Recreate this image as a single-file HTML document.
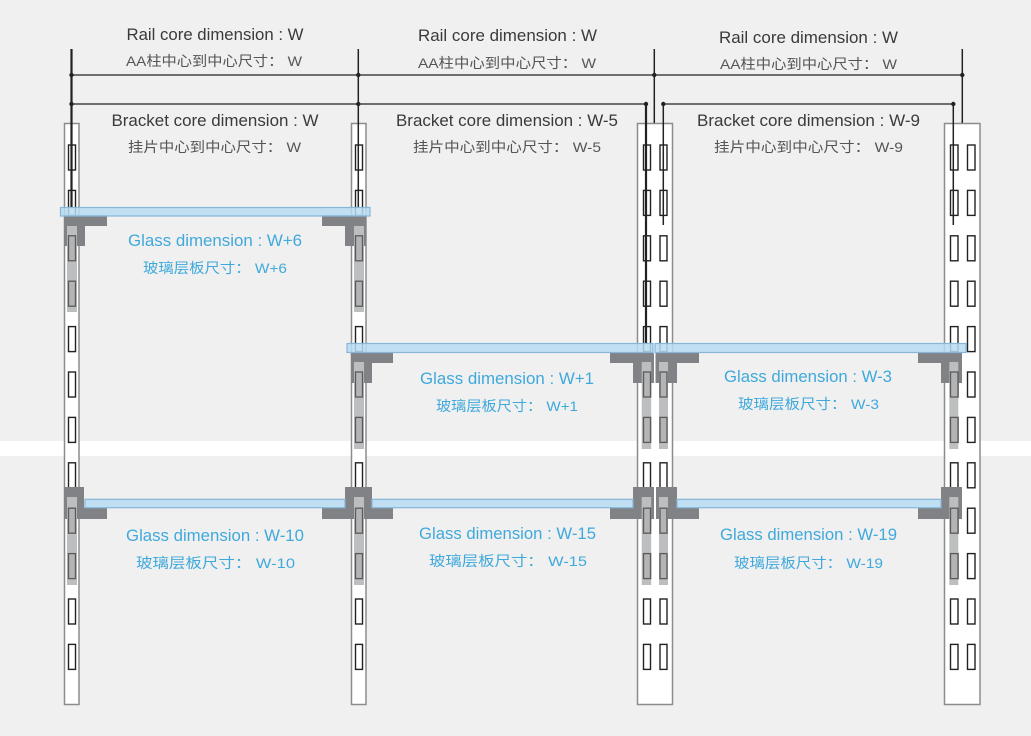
<!DOCTYPE html>
<html><head><meta charset="utf-8"><style>
html,body{margin:0;padding:0;background:#f0f0f0;}
svg{display:block;}
.en{font-family:"Liberation Sans",sans-serif;font-size:17px;fill:#3a3a3a;}
.cn{font-family:"Liberation Sans","Noto Sans CJK SC",sans-serif;font-size:14px;fill:#555;}
.gen{font-family:"Liberation Sans",sans-serif;font-size:17px;fill:#3fa9dc;}
.gcn{font-family:"Liberation Sans","Noto Sans CJK SC",sans-serif;font-size:14px;fill:#3fa9dc;}
</style></head><body>
<svg width="1031" height="736" viewBox="0 0 1031 736" xmlns="http://www.w3.org/2000/svg">
<rect x="0" y="0" width="1031" height="736" fill="#f0f0f0"/>
<rect x="0" y="441" width="1031" height="15" fill="#ffffff"/>

<!-- rails -->
<g fill="#ffffff" stroke="#8c8c8c" stroke-width="1.5">
<rect x="64.5" y="123.5" width="14.5" height="581"/>
<rect x="351.5" y="123.5" width="14.5" height="581"/>
<rect x="637.5" y="123.5" width="35" height="581"/>
<rect x="944.5" y="123.5" width="35.5" height="581"/>
</g>

<!-- slots -->
<g fill="#ffffff" stroke="#222" stroke-width="1.4" id="slots">
<!-- generated rows -->
<rect x="68.5" y="145" width="7" height="25"/><rect x="355.5" y="145" width="7" height="25"/><rect x="643.5" y="145" width="7" height="25"/><rect x="660" y="145" width="7" height="25"/><rect x="950.5" y="145" width="7.5" height="25"/><rect x="967.5" y="145" width="7.5" height="25"/>
<rect x="68.5" y="190.4" width="7" height="25"/><rect x="355.5" y="190.4" width="7" height="25"/><rect x="643.5" y="190.4" width="7" height="25"/><rect x="660" y="190.4" width="7" height="25"/><rect x="950.5" y="190.4" width="7.5" height="25"/><rect x="967.5" y="190.4" width="7.5" height="25"/>
<rect x="68.5" y="235.8" width="7" height="25"/><rect x="355.5" y="235.8" width="7" height="25"/><rect x="643.5" y="235.8" width="7" height="25"/><rect x="660" y="235.8" width="7" height="25"/><rect x="950.5" y="235.8" width="7.5" height="25"/><rect x="967.5" y="235.8" width="7.5" height="25"/>
<rect x="68.5" y="281.2" width="7" height="25"/><rect x="355.5" y="281.2" width="7" height="25"/><rect x="643.5" y="281.2" width="7" height="25"/><rect x="660" y="281.2" width="7" height="25"/><rect x="950.5" y="281.2" width="7.5" height="25"/><rect x="967.5" y="281.2" width="7.5" height="25"/>
<rect x="68.5" y="326.6" width="7" height="25"/><rect x="355.5" y="326.6" width="7" height="25"/><rect x="643.5" y="326.6" width="7" height="25"/><rect x="660" y="326.6" width="7" height="25"/><rect x="950.5" y="326.6" width="7.5" height="25"/><rect x="967.5" y="326.6" width="7.5" height="25"/>
<rect x="68.5" y="372" width="7" height="25"/><rect x="355.5" y="372" width="7" height="25"/><rect x="643.5" y="372" width="7" height="25"/><rect x="660" y="372" width="7" height="25"/><rect x="950.5" y="372" width="7.5" height="25"/><rect x="967.5" y="372" width="7.5" height="25"/>
<rect x="68.5" y="417.4" width="7" height="25"/><rect x="355.5" y="417.4" width="7" height="25"/><rect x="643.5" y="417.4" width="7" height="25"/><rect x="660" y="417.4" width="7" height="25"/><rect x="950.5" y="417.4" width="7.5" height="25"/><rect x="967.5" y="417.4" width="7.5" height="25"/>
<rect x="68.5" y="462.8" width="7" height="25"/><rect x="355.5" y="462.8" width="7" height="25"/><rect x="643.5" y="462.8" width="7" height="25"/><rect x="660" y="462.8" width="7" height="25"/><rect x="950.5" y="462.8" width="7.5" height="25"/><rect x="967.5" y="462.8" width="7.5" height="25"/>
<rect x="68.5" y="508.2" width="7" height="25"/><rect x="355.5" y="508.2" width="7" height="25"/><rect x="643.5" y="508.2" width="7" height="25"/><rect x="660" y="508.2" width="7" height="25"/><rect x="950.5" y="508.2" width="7.5" height="25"/><rect x="967.5" y="508.2" width="7.5" height="25"/>
<rect x="68.5" y="553.6" width="7" height="25"/><rect x="355.5" y="553.6" width="7" height="25"/><rect x="643.5" y="553.6" width="7" height="25"/><rect x="660" y="553.6" width="7" height="25"/><rect x="950.5" y="553.6" width="7.5" height="25"/><rect x="967.5" y="553.6" width="7.5" height="25"/>
<rect x="68.5" y="599" width="7" height="25"/><rect x="355.5" y="599" width="7" height="25"/><rect x="643.5" y="599" width="7" height="25"/><rect x="660" y="599" width="7" height="25"/><rect x="950.5" y="599" width="7.5" height="25"/><rect x="967.5" y="599" width="7.5" height="25"/>
<rect x="68.5" y="644.4" width="7" height="25"/><rect x="355.5" y="644.4" width="7" height="25"/><rect x="643.5" y="644.4" width="7" height="25"/><rect x="660" y="644.4" width="7" height="25"/><rect x="950.5" y="644.4" width="7.5" height="25"/><rect x="967.5" y="644.4" width="7.5" height="25"/>
</g>

<!-- dimension lines -->
<g stroke="#222" fill="none">
<line x1="71.5" y1="49" x2="71.5" y2="208" stroke-width="2.2"/>
<line x1="358.3" y1="49" x2="358.3" y2="208" stroke-width="1.5"/>
<line x1="654.3" y1="49" x2="654.3" y2="123" stroke-width="1.5"/>
<line x1="962.3" y1="49" x2="962.3" y2="123" stroke-width="1.5"/>
<line x1="646" y1="104" x2="646" y2="344" stroke-width="2.2"/>
<line x1="663.3" y1="104" x2="663.3" y2="225" stroke-width="1.5"/>
<line x1="953.3" y1="104" x2="953.3" y2="225" stroke-width="1.5"/>
<line x1="71" y1="75" x2="962.5" y2="75" stroke-width="1.3"/>
<line x1="71" y1="104" x2="646" y2="104" stroke-width="1.3"/>
<line x1="663" y1="104" x2="953.5" y2="104" stroke-width="1.3"/>
</g>
<g fill="#222">
<circle cx="71.5" cy="75" r="2.2"/><circle cx="358.3" cy="75" r="2.2"/><circle cx="654.3" cy="75" r="2.2"/><circle cx="962.3" cy="75" r="2.2"/>
<circle cx="71.5" cy="104" r="2.2"/><circle cx="358.3" cy="104" r="2.2"/><circle cx="646" cy="104" r="2.2"/><circle cx="663.3" cy="104" r="2.2"/><circle cx="953.3" cy="104" r="2.2"/>
</g>

<!-- brackets -->
<g fill="#808285">
<path d="M64,215 H107 V226 H85 V246 H64 Z"/>
<path d="M366,215 H322 V226 H345 V246 H366 Z"/>
<path d="M351,353 H393 V363 H372 V383 H351 Z"/>
<path d="M610,353 H654 V383 H633 V363 H610 Z"/>
<path d="M655.5,353 H699 V363 H677 V383 H655.5 Z"/>
<path d="M918,353 H962 V383 H941 V363 H918 Z"/>
<path d="M64,487 H84 V507.5 H107 V519 H64 Z"/>
<path d="M345,487 H372 V507.5 H393 V519 H322 V507.5 H345 Z"/>
<path d="M633,487 H654 V519 H610 V507.5 H633 Z"/>
<path d="M656,487 H677 V507.5 H699 V519 H656 Z"/>
<path d="M941,487 H962 V519 H918 V507.5 H941 Z"/>
</g>

<!-- light strips -->
<g fill="#bdbec0">
<rect x="67" y="226" width="10" height="86"/>
<rect x="354" y="226" width="10" height="86"/>
<rect x="354" y="362" width="10" height="87"/>
<rect x="641.7" y="362" width="9.5" height="87"/>
<rect x="659" y="362" width="9" height="87"/>
<rect x="949.3" y="362" width="9" height="87"/>
<rect x="67" y="497" width="10" height="88"/>
<rect x="354" y="497" width="10" height="88"/>
<rect x="641.7" y="497" width="9.5" height="88"/>
<rect x="659" y="497" width="9" height="88"/>
<rect x="949.3" y="497" width="9" height="88"/>
</g>
<g fill="#b3b4b6" stroke="#5a5a5a" stroke-width="1.3">
<rect x="68.5" y="235.8" width="7" height="25"/><rect x="68.5" y="281.2" width="7" height="25"/>
<rect x="355.5" y="235.8" width="7" height="25"/><rect x="355.5" y="281.2" width="7" height="25"/>
<rect x="355.5" y="372" width="7" height="25"/><rect x="355.5" y="417.4" width="7" height="25"/>
<rect x="643.5" y="372" width="7" height="25"/><rect x="643.5" y="417.4" width="7" height="25"/>
<rect x="660" y="372" width="7" height="25"/><rect x="660" y="417.4" width="7" height="25"/>
<rect x="950.5" y="372" width="7.5" height="25"/><rect x="950.5" y="417.4" width="7.5" height="25"/>
<rect x="68.5" y="508.2" width="7" height="25"/><rect x="68.5" y="553.6" width="7" height="25"/>
<rect x="355.5" y="508.2" width="7" height="25"/><rect x="355.5" y="553.6" width="7" height="25"/>
<rect x="643.5" y="508.2" width="7" height="25"/><rect x="643.5" y="553.6" width="7" height="25"/>
<rect x="660" y="508.2" width="7" height="25"/><rect x="660" y="553.6" width="7" height="25"/>
<rect x="950.5" y="508.2" width="7.5" height="25"/><rect x="950.5" y="553.6" width="7.5" height="25"/>
</g>

<!-- glass -->
<g fill="#b8dcf3" fill-opacity="0.85" stroke="#86b6da" stroke-width="1.2">
<rect x="60.5" y="207.5" width="309.5" height="8.5"/>
<rect x="347" y="343.5" width="306" height="9"/>
<rect x="655" y="343.5" width="311" height="9"/>
<rect x="85" y="499.3" width="260" height="8.4"/>
<rect x="372" y="499.3" width="261" height="8.4"/>
<rect x="677" y="499.3" width="264" height="8.4"/>
</g>

<!-- labels -->
<g text-anchor="middle">
<text class="en" x="215" y="40" textLength="177" lengthAdjust="spacingAndGlyphs">Rail core dimension : W</text>
<text class="cn" x="214" y="66" textLength="176" lengthAdjust="spacingAndGlyphs">AA柱中心到中心尺寸： W</text>
<text class="en" x="215" y="126" textLength="207" lengthAdjust="spacingAndGlyphs">Bracket core dimension : W</text>
<text class="cn" x="214.5" y="152" textLength="173" lengthAdjust="spacingAndGlyphs">挂片中心到中心尺寸： W</text>

<text class="en" x="507.5" y="41" textLength="179" lengthAdjust="spacingAndGlyphs">Rail core dimension : W</text>
<text class="cn" x="507" y="68" textLength="178" lengthAdjust="spacingAndGlyphs">AA柱中心到中心尺寸： W</text>
<text class="en" x="507" y="126" textLength="222" lengthAdjust="spacingAndGlyphs">Bracket core dimension : W-5</text>
<text class="cn" x="507" y="152" textLength="188" lengthAdjust="spacingAndGlyphs">挂片中心到中心尺寸： W-5</text>

<text class="en" x="808.5" y="43" textLength="179" lengthAdjust="spacingAndGlyphs">Rail core dimension : W</text>
<text class="cn" x="808.5" y="69" textLength="177" lengthAdjust="spacingAndGlyphs">AA柱中心到中心尺寸： W</text>
<text class="en" x="808.5" y="126" textLength="223" lengthAdjust="spacingAndGlyphs">Bracket core dimension : W-9</text>
<text class="cn" x="808.5" y="152" textLength="189" lengthAdjust="spacingAndGlyphs">挂片中心到中心尺寸： W-9</text>

<text class="gen" x="215" y="246" textLength="174" lengthAdjust="spacingAndGlyphs">Glass dimension : W+6</text>
<text class="gcn" x="215" y="273" textLength="144" lengthAdjust="spacingAndGlyphs">玻璃层板尺寸： W+6</text>
<text class="gen" x="507" y="384" textLength="174" lengthAdjust="spacingAndGlyphs">Glass dimension : W+1</text>
<text class="gcn" x="507" y="411" textLength="142" lengthAdjust="spacingAndGlyphs">玻璃层板尺寸： W+1</text>
<text class="gen" x="808" y="382" textLength="168" lengthAdjust="spacingAndGlyphs">Glass dimension : W-3</text>
<text class="gcn" x="808.5" y="409" textLength="141" lengthAdjust="spacingAndGlyphs">玻璃层板尺寸： W-3</text>

<text class="gen" x="215" y="541" textLength="178" lengthAdjust="spacingAndGlyphs">Glass dimension : W-10</text>
<text class="gcn" x="215.5" y="568" textLength="159" lengthAdjust="spacingAndGlyphs">玻璃层板尺寸： W-10</text>
<text class="gen" x="507.5" y="539" textLength="177" lengthAdjust="spacingAndGlyphs">Glass dimension : W-15</text>
<text class="gcn" x="508" y="566" textLength="158" lengthAdjust="spacingAndGlyphs">玻璃层板尺寸： W-15</text>
<text class="gen" x="808.5" y="540" textLength="177" lengthAdjust="spacingAndGlyphs">Glass dimension : W-19</text>
<text class="gcn" x="808.5" y="568" textLength="149" lengthAdjust="spacingAndGlyphs">玻璃层板尺寸： W-19</text>
</g>
</svg>
</body></html>
